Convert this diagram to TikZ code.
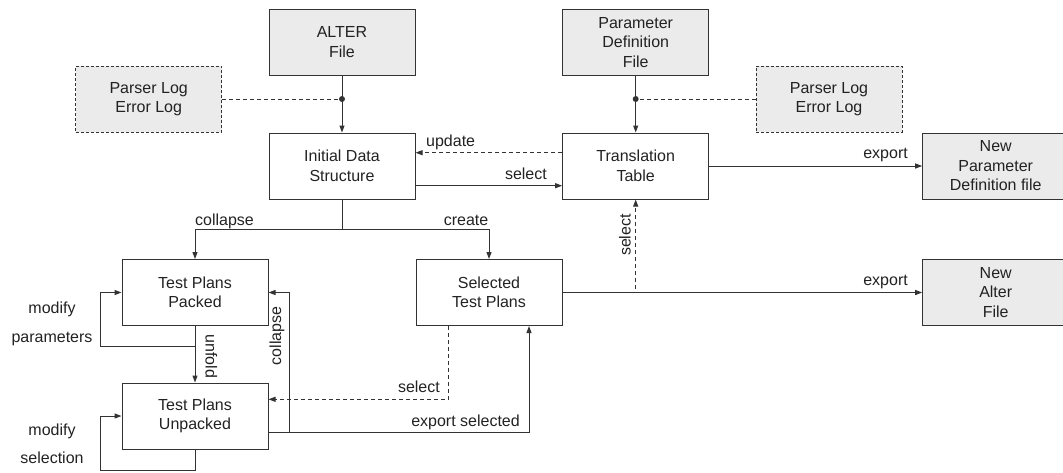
\documentclass[tikz,border=0pt]{standalone}
\usepackage{fontspec}
\setmainfont{Liberation Sans}
\usetikzlibrary{arrows.meta}
\definecolor{ln}{HTML}{333333}
\definecolor{bx}{HTML}{EBEBEB}
\definecolor{tx}{HTML}{222222}
\begin{document}
\begin{tikzpicture}[x=1pt,y=-1pt,
 box/.style={draw=ln, line width=1pt, minimum width=146pt, minimum height=66pt, align=center, inner sep=0pt, text=tx, font=\fontsize{16}{19.5}\selectfont},
 filebox/.style={box, fill=bx},
 logbox/.style={box, fill=bx, dash pattern=on 3pt off 2pt},
 conn/.style={draw=ln, line width=1pt},
 arr/.style={conn, -{Triangle[length=7pt,width=5pt]}},
 dsh/.style={dash pattern=on 4pt off 3pt},
 lbl/.style={text=tx, font=\fontsize{16}{19.5}\selectfont, inner sep=0pt},
 dot/.style={circle, fill=ln, inner sep=0pt, minimum size=6pt}]
\useasboundingbox (0,0) rectangle (1063,472);

% boxes
\node[filebox] (alter) at (342,42.3) {ALTER\\File};
\node[logbox] (plogL) at (148.7,99) {Parser Log\\Error Log};
\node[box] (ids) at (342,166) {Initial Data\\Structure};
\node[filebox] (pdf) at (635.7,42.3) {Parameter\\Definition\\File};
\node[logbox] (plogR) at (829,99) {Parser Log\\Error Log};
\node[box] (tt) at (635.7,166) {Translation\\Table};
\node[filebox] (npd) at (995.7,166) {New\\Parameter\\Definition file};
\node[box] (packed) at (195,292.5) {Test Plans\\Packed};
\node[box] (unpacked) at (195,416) {Test Plans\\Unpacked};
\node[box] (stp) at (489,292.5) {Selected\\Test Plans};
\node[filebox] (naf) at (995.7,292.5) {New\\Alter\\File};

% file inputs with log branches
\draw[arr] (alter) -- (ids);
\node[dot] (d1) at (342,99) {};
\draw[conn,dsh] (plogL.east) -- (d1);
\draw[arr] (pdf) -- (tt);
\node[dot] (d2) at (635.7,99) {};
\draw[conn,dsh] (plogR.west) -- (d2);

% ids <-> tt
\draw[arr,dsh] ([yshift=13.3pt]tt.west) -- ([yshift=13.3pt]ids.east);
\draw[arr] ([yshift=-19.7pt]ids.east) -- ([yshift=-19.7pt]tt.west);
\node[lbl,anchor=base west] (lupd) at (426,146) {update};
\node[lbl,anchor=base east] (lsel1) at (547,179) {select};

% ids split
\coordinate (j1) at (342,229);
\draw[conn] (ids.south) -- (j1);
\draw[arr] (j1) -| (packed.north);
\draw[arr] (j1) -| (stp.north);
\node[lbl,anchor=base west] (lcol1) at (195,225) {collapse};
\node[lbl,anchor=base east] (lcre) at (488.5,225) {create};

% exports
\draw[arr] (tt) -- (npd);
\node[lbl,anchor=base east] (lexp1) at (908,158.3) {export};
\draw[arr] (stp.east) -- (naf.west);
\node[lbl,anchor=base east] (lexp2) at (908,285.7) {export};
\draw[arr,dsh] (stp.east) -| (tt.south);
\node[lbl,rotate=90,anchor=base] (lsel2) at (630.5,235) {select};

% packed / unpacked
\draw[arr] (packed.south) -- ++(0,20.7) -| ([xshift=-20.7pt]packed.west) -- (packed.west);
\draw[arr] (packed) -- (unpacked);
\node[lbl,rotate=-90,anchor=base] (lunf) at (205.5,356.5) {unfold};
\draw[arr] (unpacked.south) -- ++(0,20.7) -| ([xshift=-20.7pt]unpacked.west) -- (unpacked.west);
\node[lbl,anchor=base] (lmod1) at (52,313.3) {modify};
\node[lbl,anchor=base] (lpar) at (52,342.3) {parameters};
\node[lbl,anchor=base] (lmod2) at (52,435) {modify};
\node[lbl,anchor=base] (lsln) at (52,463.3) {selection};

\coordinate (c1) at (289,432.7);
\draw[arr] ([yshift=-16.7pt]unpacked.east) -- (c1) |- (packed.east);
\node[lbl,rotate=90,anchor=base] (lcol2) at (281,336) {collapse};
\draw[arr] ([yshift=-16.7pt]unpacked.east) -| ([xshift=40pt]stp.south);
\node[lbl,anchor=base east] (lexs) at (520,426.7) {export selected};
\draw[arr,dsh] ([xshift=-40.7pt]stp.south) |- ([yshift=16.7pt]unpacked.east);
\node[lbl,anchor=base east] (lsel3) at (440,392.7) {select};
\end{tikzpicture}
\end{document}
